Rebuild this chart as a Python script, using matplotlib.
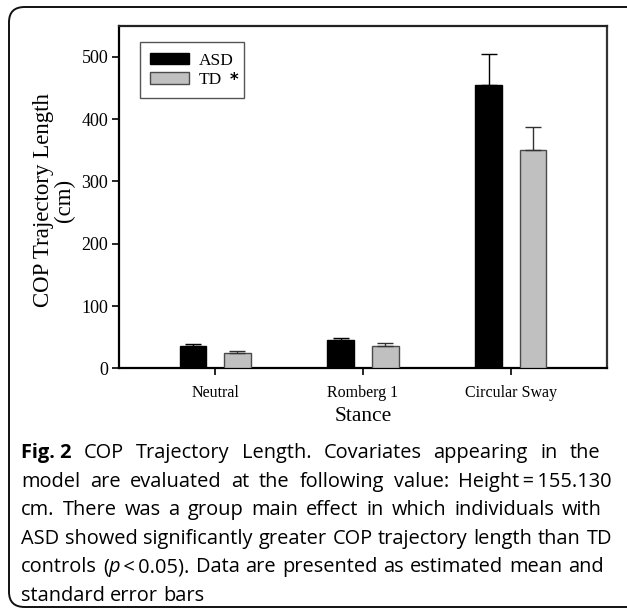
import matplotlib
matplotlib.use("Agg")
import matplotlib.pyplot as plt
from matplotlib.patches import FancyBboxPatch
import numpy as np

stances = ["Neutral", "Romberg 1", "Circular Sway"]
asd_mean = [35, 45, 454]
asd_se = [4, 4, 51]
td_mean = [24, 36, 350]
td_se = [4, 4, 38]

# caption, one list of words per line; each word is a list of (text, style) pieces
# style: "n" normal, "b" bold, "i" italic
caption = [
    [[("Fig. 2", "b")]] + [[(w, "n")] for w in
        "COP Trajectory Length. Covariates appearing in the".split()],
    [[(w, "n")] for w in
        "model are evaluated at the following value: Height\u2009=\u2009155.130".split(" ")],
    [[(w, "n")] for w in "cm. There was a group main effect in which individuals with".split()],
    [[(w, "n")] for w in "ASD showed significantly greater COP trajectory length than TD".split()],
    [[("controls", "n")], [("(", "n"), ("p", "i"), ("\u2009<\u20090.05).", "n")]]
        + [[(w, "n")] for w in "Data are presented as estimated mean and".split()],
    [[(w, "n")] for w in "standard error bars".split()],
]
# right edge (px) each caption line reaches in the printed figure; None = natural spacing
line_ends = [600, 612, 602, 612, 604, None]

W, H = 627, 609
fig = plt.figure(figsize=(W / 100, H / 100), dpi=100)
ax = fig.add_axes([119.3 / W, 1 - 368.3 / H, 487.4 / W, 342.6 / H])

serif = "Liberation Serif"
sans = "Open Sans"

x = np.arange(len(stances))
bw = 0.18
ax.bar(x - 0.15, asd_mean, bw, color="black", edgecolor="black", linewidth=1,
       yerr=[np.zeros(3), asd_se], error_kw=dict(ecolor="black", elinewidth=1, capsize=5.5, capthick=1),
       label="ASD", zorder=3)
ax.bar(x + 0.15, td_mean, bw, color="#c0c0c0", edgecolor="#4a4a4a", linewidth=1,
       yerr=[np.zeros(3), td_se], error_kw=dict(ecolor="#333333", elinewidth=1, capsize=5.5, capthick=1),
       label="TD", zorder=3)

ax.set_xlim(-0.647, 2.647)
ax.set_ylim(0, 550)
ax.set_yticks([0, 100, 200, 300, 400, 500])
ax.set_xticks(x)
ax.set_xticklabels(stances, fontfamily=serif, fontsize=11.5)
for lab in ax.get_yticklabels():
    lab.set_fontfamily(serif)
    lab.set_fontsize(13)
ax.tick_params(axis="y", direction="out", length=5, width=1.2, pad=3, colors="black")
ax.tick_params(axis="x", direction="out", length=5, width=1.2, pad=7)
for s in ax.spines.values():
    s.set_linewidth(1.6)
ax.spines["right"].set_color("#333333")
ax.spines["top"].set_color("#222222")

ax.set_ylabel("COP Trajectory Length\n(cm)", fontfamily=serif, fontsize=16.5, linespacing=1.0)
ax.yaxis.label.set_va("center")
ax.yaxis.set_label_coords(-0.134, 0.49)
ax.set_xlabel("Stance", fontfamily=serif, fontsize=15.5, labelpad=4)

leg = ax.legend(loc="upper left", bbox_to_anchor=(0.0425, 0.952), borderaxespad=0,
                frameon=True, fancybox=False, edgecolor="#555555", framealpha=1,
                prop=dict(family=serif, size=12.5), handlelength=2.2, handleheight=0.65,
                handletextpad=0.6, labelspacing=0.2, borderpad=0.6)
leg.get_frame().set_linewidth(1)

frame = FancyBboxPatch((9 / W, 1 - 607 / H), (660 - 9) / W, (607 - 7) / H,
                       boxstyle="round,pad=0,rounding_size=0.025", transform=fig.transFigure,
                       fill=False, edgecolor="#111111", linewidth=1.4, clip_on=False)
fig.patches.append(frame)

# caption text
fs = 14.4
left = 21
fig.canvas.draw()
renderer = fig.canvas.get_renderer()
ta = fig.text(0, 0, "a a", fontfamily=sans, fontsize=fs)
tb = fig.text(0, 0, "aa", fontfamily=sans, fontsize=fs)
space_w = ta.get_window_extent(renderer).width - tb.get_window_extent(renderer).width
ta.remove()
tb.remove()
for i, words in enumerate(caption):
    yb = 1 - (458 + 28.6 * i) / H
    arts = []
    for word in words:
        pieces = []
        for txt, st in word:
            pieces.append(fig.text(0, yb, txt, fontfamily=sans, fontsize=fs, va="baseline",
                                   ha="left", fontweight="bold" if st == "b" else "normal",
                                   style="italic" if st == "i" else "normal"))
        arts.append(pieces)
    widths = [[p.get_window_extent(renderer).width for p in pieces] for pieces in arts]
    total = sum(sum(w) for w in widths)
    if line_ends[i] is not None and len(arts) > 1:
        gap = max(space_w, (line_ends[i] - left - total) / (len(arts) - 1))
    else:
        gap = space_w
    xp = left
    for pieces, ws in zip(arts, widths):
        for p, w in zip(pieces, ws):
            p.set_x(xp / W)
            xp += w
        xp += gap

# asterisk next to the TD legend entry
bb = leg.get_texts()[1].get_window_extent(renderer)
fig.text((bb.x1 + 7) / W, (bb.y0 + 3.5) / H, "*", fontfamily="DejaVu Sans",
         fontsize=12, fontweight="bold", va="baseline", ha="left")

fig.savefig("out.png", dpi=100)
